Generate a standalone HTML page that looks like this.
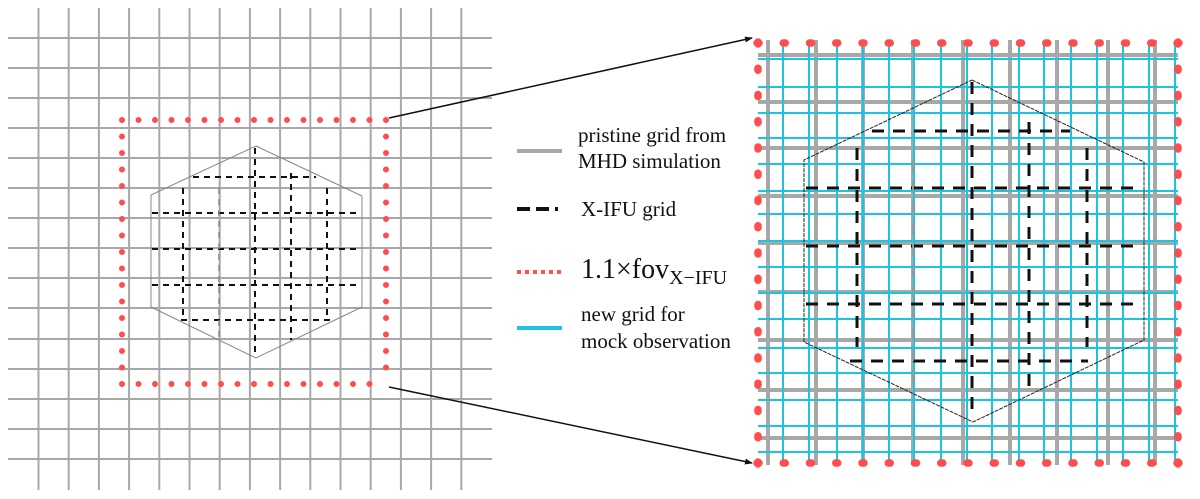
<!DOCTYPE html>
<html><head><meta charset="utf-8"><style>
html,body{margin:0;padding:0;background:#fff;}
svg{display:block;}
text{font-family:"Liberation Serif",serif;fill:#111;}
</style></head><body>
<svg width="1200" height="499" viewBox="0 0 1200 499" xmlns="http://www.w3.org/2000/svg">
<defs>
<marker id="ah" markerWidth="8" markerHeight="6" refX="7" refY="3" orient="auto" markerUnits="userSpaceOnUse">
<path d="M0,0 L8,3 L0,6 Z" fill="#111"/>
</marker>
</defs>
<g stroke="#a8a8a8" stroke-width="2" fill="none">
<path d="M38.5,8V490M68.7,8V490M98.9,8V490M129.1,8V490M159.3,8V490M189.5,8V490M219.7,8V490M249.9,8V490M280.1,8V490M310.3,8V490M340.5,8V490M370.7,8V490M400.9,8V490M431.1,8V490M461.3,8V490"/>
<path d="M8,38H492M8,68H492M8,98H492M8,128H492M8,158H492M8,188H492M8,218H492M8,248H492M8,278H492M8,308H492M8,339H492M8,369H492M8,399H492M8,429H492M8,459H492"/>
</g>
<polygon points="256,146 362,196 362,307 256,358 151,307 151,195" fill="none" stroke="#888" stroke-width="1"/>
<g stroke="#111" stroke-width="2" stroke-dasharray="6 5" fill="none">
<path d="M193,177H316M152,213H360M152,249H360M152,285H360M181,320H330"/>
<path d="M183,188V320M255,148V352M291,173V340M327,188V320"/>
</g>
<path d="M219,188V340" stroke="#888" stroke-width="1.5" stroke-dasharray="6 5"/>
<g stroke="#ff4d4d" stroke-width="6" stroke-linecap="round" stroke-dasharray="0 16.5" fill="none">
<path d="M122,120H386M122,384H386M122,120V384M386,120V384"/>
</g>
<line x1="389" y1="118" x2="752" y2="38" stroke="#111" stroke-width="1.5" marker-end="url(#ah)"/>
<line x1="389" y1="387" x2="752" y2="463" stroke="#111" stroke-width="1.5" marker-end="url(#ah)"/>
<line x1="517" y1="151" x2="562" y2="151" stroke="#a8a8a8" stroke-width="4"/>
<line x1="517" y1="209" x2="562" y2="209" stroke="#111" stroke-width="4" stroke-dasharray="13 6 13 6 3"/>
<line x1="517" y1="272" x2="562" y2="272" stroke="#ff4d4d" stroke-width="4" stroke-dasharray="4 4"/>
<line x1="517" y1="328" x2="562" y2="328" stroke="#1ec3e0" stroke-width="4"/>
<text x="578" y="142" font-size="21">pristine grid from</text>
<text x="578" y="168" font-size="21">MHD simulation</text>
<text x="581" y="216" font-size="21">X-IFU grid</text>
<text x="581" y="278" font-size="28">1.1×fov<tspan font-size="20" dy="6">X−IFU</tspan></text>
<text x="581" y="321" font-size="21">new grid for</text>
<text x="581" y="348" font-size="21">mock observation</text>
<g stroke="#a8a8a8" stroke-width="4" fill="none">
<path d="M768,40V465M816,40V465M863,40V465M913,40V465M963,40V465M1010,40V465M1057,40V465M1108,40V465M1155,40V465"/>
<path d="M758,55H1178M758,102H1178M758,148H1178M758,196H1178M758,243H1178M758,292H1178M758,340H1178M758,390H1178M758,438H1178"/>
</g>
<g stroke="#1ec3e0" stroke-width="2" fill="none">
<path d="M783,43V463M809,43V463M837,43V463M863,43V463M889,43V463M914,43V463M941,43V463M967,43V463M992,43V463M1019,43V463M1044,43V463M1071,43V463M1097,43V463M1123,43V463M1149,43V463M1175,43V463"/>
<path d="M758,59H1178M758,87H1178M758,113H1178M758,138H1178M758,164H1178M758,191H1178M758,214H1178M758,241H1178M758,267H1178M758,293H1178M758,319H1178M758,348H1178M758,373H1178M758,400H1178M758,426H1178M758,452H1178"/>
</g>
<polygon points="972,80 1144,162 1144,340 973,422 804,342 804,160" fill="none" stroke="#222" stroke-width="1" stroke-dasharray="4 1"/>
<g stroke="#111" stroke-width="3" stroke-dasharray="12 9" fill="none">
<path d="M872,131H1070M806,188H1140M806,246H1140M806,304H1140M850,361H1088"/>
<path d="M857,148V347M972,82V410M1029,122V390M1087,148V347"/>
</g>
<path d="M913,160V390" stroke="#999" stroke-width="2" stroke-dasharray="12 9"/>
<g stroke="#ff4d4d" stroke-width="7.5" stroke-linecap="round" stroke-dasharray="2 24.25" fill="none">
<path d="M757,43H1180M757,463H1180M758,42V465M1178,42V465"/>
</g>
</svg>
</body></html>
